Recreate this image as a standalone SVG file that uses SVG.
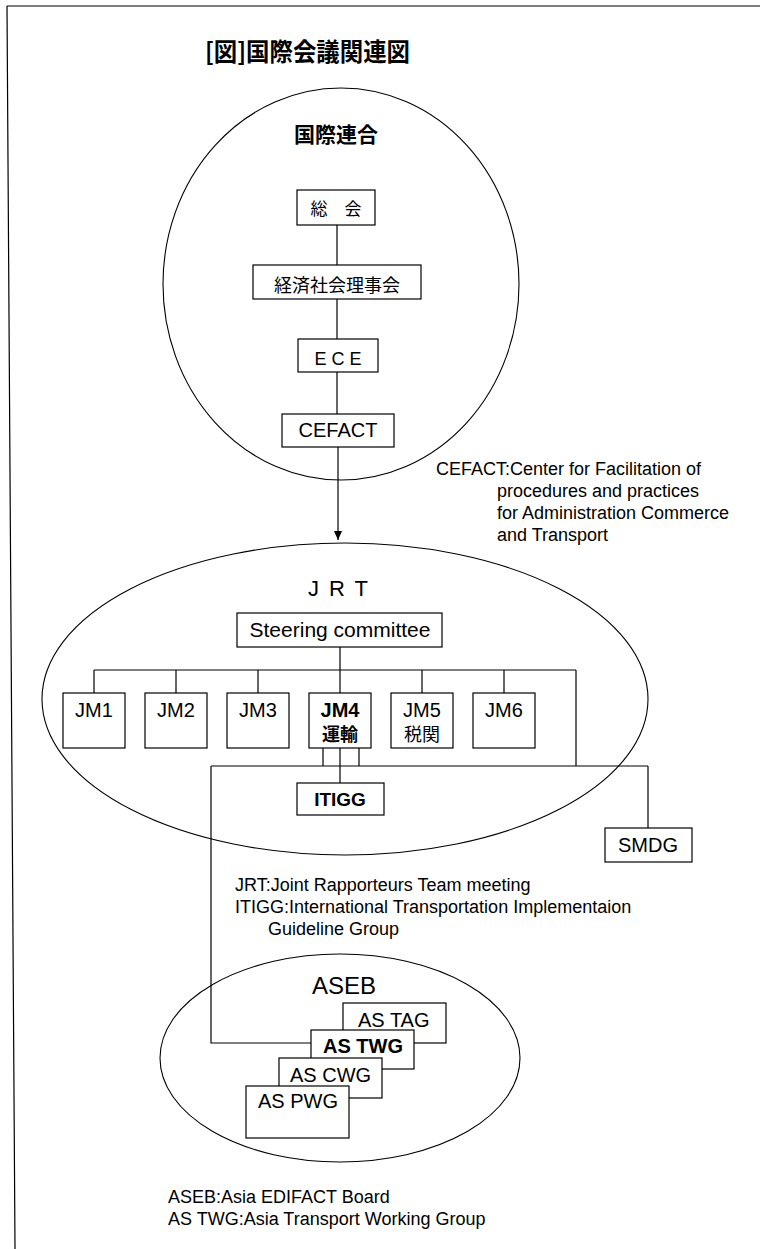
<svg xmlns="http://www.w3.org/2000/svg" width="760" height="1249" viewBox="0 0 760 1249">
<defs>
<style>
.bx{fill:#fff;stroke:#000;stroke-width:1.2}
.el{fill:none;stroke:#000;stroke-width:1.1}
.ln{fill:none;stroke:#000;stroke-width:1.2}
.t{font-family:"Liberation Sans","Noto Sans CJK JP",sans-serif;fill:#000}
.j{font-family:"Noto Sans CJK JP",sans-serif;fill:#000}
.c{text-anchor:middle}
.b{font-weight:bold}
</style>
<marker id="arr" markerUnits="userSpaceOnUse" markerWidth="10" markerHeight="8" refX="9" refY="4" orient="auto">
<path d="M0,0 L9,4 L0,8 Z" fill="#000"/>
</marker>
</defs>
<rect x="0" y="0" width="760" height="1249" fill="#fff"/>
<g id="frame">
<path class="ln" d="M7,6 H760 M7,6 L15,1249"/>
</g>
<text id="title" class="j b" x="205" y="61" font-size="25" textLength="205" lengthAdjust="spacingAndGlyphs">[図]国際会議関連図</text>

<g id="un">
<ellipse class="el" cx="341" cy="284" rx="178" ry="196"/>
<text class="j b c" x="336" y="142" font-size="21">国際連合</text>
</g>
<g id="jrt">
<ellipse class="el" cx="345" cy="699" rx="303" ry="156"/>
<text class="t c" x="338" y="596" font-size="22" textLength="60">J R T</text>
</g>
<g id="aseb">
<ellipse class="el" cx="340" cy="1058" rx="180" ry="104"/>
<text class="t c" x="344" y="994" font-size="24">ASEB</text>
</g>

<g id="connectors">
<path class="ln" d="M337,225 V265 M337,299 V339 M337,372 V414"/>
<path class="ln" d="M338,447 V540" marker-end="url(#arr)"/>
<path class="ln" d="M340,647 V693 M94,670 H576 M94,670 V693 M176,670 V693 M258,670 V693 M422,670 V693 M504,670 V693 M576,670 V766"/>
<path class="ln" d="M323,748 V766 M359,748 V766 M340,748 V783 M211,766 H648 M648,766 V828 M211,766 V1043 H311"/>
</g>

<g id="soukai"><rect class="bx" x="297" y="190" width="78" height="35"/><text class="j c" x="336" y="215" font-size="17">総　会</text></g>
<g id="ecosoc"><rect class="bx" x="253" y="265" width="168" height="34"/><text class="j c" x="337" y="292" font-size="18">経済社会理事会</text></g>
<g id="ece"><rect class="bx" x="298" y="339" width="80" height="33"/><text class="t c" x="338" y="365" font-size="18">E C E</text></g>
<g id="cefact"><rect class="bx" x="282" y="414" width="112" height="33"/><text class="t c" x="338" y="437" font-size="20">CEFACT</text></g>

<g id="cefact-note" class="t" font-size="18">
<text x="436" y="475">CEFACT:Center for Facilitation of</text>
<text x="497" y="497">procedures and practices</text>
<text x="497" y="519">for Administration Commerce</text>
<text x="497" y="541">and Transport</text>
</g>

<g id="steering"><rect class="bx" x="237" y="613" width="205" height="34"/><text class="t c" x="340" y="637" font-size="21">Steering committee</text></g>
<g id="jm1"><rect class="bx" x="63" y="693" width="62" height="55"/><text class="t c" x="94" y="717" font-size="20">JM1</text></g>
<g id="jm2"><rect class="bx" x="145" y="693" width="62" height="55"/><text class="t c" x="176" y="717" font-size="20">JM2</text></g>
<g id="jm3"><rect class="bx" x="227" y="693" width="62" height="55"/><text class="t c" x="258" y="717" font-size="20">JM3</text></g>
<g id="jm4"><rect class="bx" x="309" y="693" width="62" height="55"/><text class="t c b" x="340" y="717" font-size="20">JM4</text><text class="j c b" x="340" y="741" font-size="18">運輸</text></g>
<g id="jm5"><rect class="bx" x="391" y="693" width="62" height="55"/><text class="t c" x="422" y="717" font-size="20">JM5</text><text class="j c" x="422" y="741" font-size="18">税関</text></g>
<g id="jm6"><rect class="bx" x="473" y="693" width="62" height="55"/><text class="t c" x="504" y="717" font-size="20">JM6</text></g>
<g id="itigg"><rect class="bx" x="297" y="783" width="87" height="32"/><text class="t c b" x="340" y="806" font-size="19">ITIGG</text></g>
<g id="smdg"><rect class="bx" x="605" y="828" width="87" height="34"/><text class="t c" x="648" y="852" font-size="20">SMDG</text></g>

<g id="jrt-note" class="t" font-size="18">
<text x="235" y="891">JRT:Joint Rapporteurs Team meeting</text>
<text x="235" y="913">ITIGG:International Transportation Implementaion</text>
<text x="268" y="935">Guideline Group</text>
</g>

<g id="astag"><rect class="bx" x="343" y="1003" width="103" height="40"/><text class="t" x="358" y="1027" font-size="20">AS TAG</text></g>
<g id="astwg"><rect class="bx" x="311" y="1030" width="103" height="39"/><text class="t b" x="323" y="1053" font-size="20">AS TWG</text></g>
<g id="ascwg"><rect class="bx" x="279" y="1058" width="103" height="40"/><text class="t" x="290" y="1082" font-size="20">AS CWG</text></g>
<g id="aspwg"><rect class="bx" x="246" y="1086" width="103" height="52"/><text class="t" x="258" y="1108" font-size="20">AS PWG</text></g>

<g id="aseb-note" class="t" font-size="18">
<text x="168" y="1203">ASEB:Asia EDIFACT Board</text>
<text x="168" y="1225">AS TWG:Asia Transport Working Group</text>
</g>
</svg>
